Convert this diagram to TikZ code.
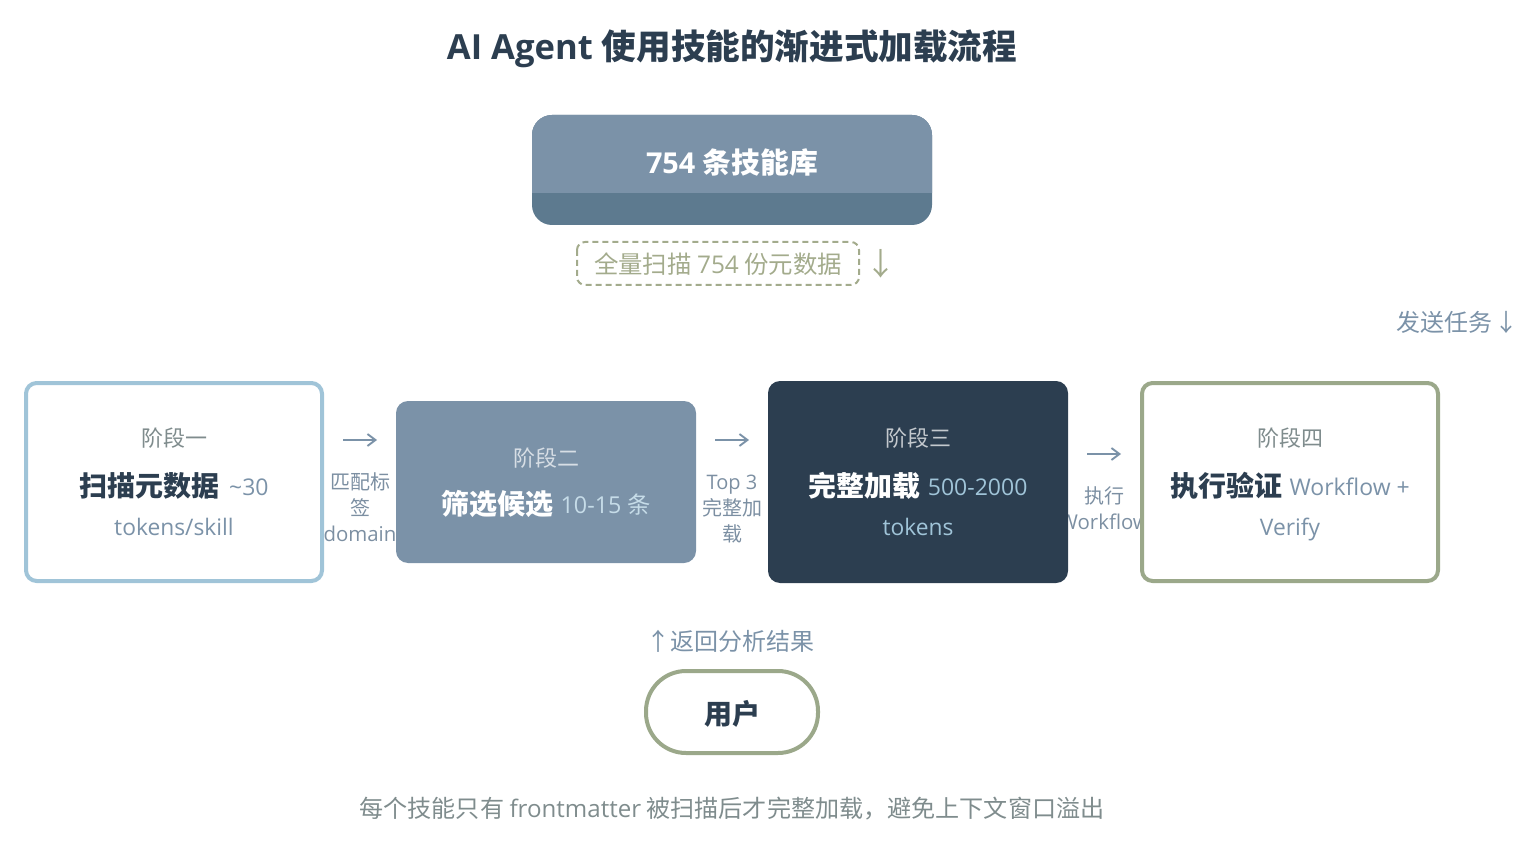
\documentclass[tikz,border=0pt]{standalone}
\usepackage{fontspec}
\usetikzlibrary{arrows.meta}
\setmainfont{Open Sans}
\newfontfamily\cjk{Noto Sans CJK SC}
\definecolor{steel}{HTML}{7B92A8}
\definecolor{steeld}{HTML}{5D7A8F}
\definecolor{navy}{HTML}{2C3E50}
\definecolor{sky}{HTML}{A0C4D8}
\definecolor{sage}{HTML}{9BA88A}
\definecolor{sagel}{HTML}{A3AB8C}
\definecolor{grayt}{HTML}{7F8C8D}
\newcommand{\px}[1]{\fontsize{\fpeval{#1*0.75}}{\fpeval{#1*0.9}}\selectfont}
\newcommand{\up}[1]{\raisebox{0.75pt}{#1}}
\tikzset{
  x=0.75pt,y=-0.75pt,
  every node/.style={inner sep=0pt,outer sep=0pt},
  txt/.style={anchor=base,text=#1},
  panel/.style={rounded corners=9pt,draw=none},
  outlinebox/.style={rounded corners=8pt,line width=3pt,draw=#1,fill=white},
  flowarrow/.style={draw=steel,line width=2.2pt,-{Straight Barb[length=6pt,width=9pt,line width=1.4pt]}},
}
\begin{document}
\begin{tikzpicture}
\useasboundingbox (0,0) rectangle (1534,848);
\node[txt=navy] (title) at (732,60) {\px{34.6}\bfseries AI Agent \cjk\bfseries 使用技能的渐进式加载流程};
% library
\path[fill=steeld,rounded corners=15pt] (532,115) rectangle (932,225);
\path[fill=steel] (532,193) [rounded corners=15pt] -- (532,115) -- (932,115) [sharp corners] -- (932,193) -- cycle;
\node[txt=white] (lib) at (732,174) {\px{28.8}\bfseries 754 \cjk\bfseries 条技能库};
\draw[draw=sagel,line width=1.5pt,dash pattern=on 4.5pt off 3pt,rounded corners=6pt] (577,242) rectangle (859,285);
\node[txt=sagel] (scan) at (718,274) {\px{24.4}\cjk 全量扫描 {\rmfamily 754} 份元数据};
\node[txt=sagel] (scanarrow) at (881,276) {\px{31}\cjk ↓};
\node[txt=steel,anchor=base east] (send) at (1518,332) {\px{24}\cjk 发送任务\kern 1.5pt ↓};
% connector labels
\node[txt=steel!85!gray] (l1a) at (360,489) {\px{20}\cjk 匹配标};
\node[txt=steel!85!gray] (l1b) at (360,515) {\px{20}\cjk 签};
\node[txt=steel!85!gray] (l1c) at (360,541) {\px{20.4}domain};
\node[txt=steel!85!gray] (l2a) at (732,489) {\px{20}Top 3};
\node[txt=steel!85!gray] (l2b) at (732,515) {\px{20}\cjk 完整加};
\node[txt=steel!85!gray] (l2c) at (732,541) {\px{20}\cjk 载};
\node[txt=steel!85!gray] (l3a) at (1104,503) {\px{20}\cjk 执行};
\node[txt=steel!85!gray] (l3b) at (1104,529) {\px{20.4}Workflow};
% arrows
\coordinate (a1s) at (343,440); \coordinate (a1e) at (377,440);
\coordinate (a2s) at (715,440); \coordinate (a2e) at (749,440);
\coordinate (a3s) at (1087,454); \coordinate (a3e) at (1121,454);
\draw[flowarrow] (a1s) -- (a1e);
\draw[flowarrow] (a2s) -- (a2e);
\draw[flowarrow] (a3s) -- (a3e);
% stage 1
\draw[outlinebox=sky] (26,383) rectangle (322,581);
\node[txt=grayt] (s1a) at (174,446) {\px{22}\cjk 阶段一};
\node[txt=steel] (s1b) at (174,496) {{\px{28}\color{navy}\cjk\bfseries 扫描元数据}\px{23} \,\up{\textasciitilde 30}};
\node[txt=steel] (s1c) at (174,535) {\px{22.8}tokens/skill};
% stage 2
\path[panel,fill=steel] (396,401) rectangle (696,563);
\node[txt={white!70!steel}] (s2a) at (546,466) {\px{22}\cjk 阶段二};
\node[txt=sky!60!white] (s2b) at (546,514) {{\px{28}\color{white}\cjk\bfseries 筛选候选}\px{23.3} \kern 1pt\up{10-15 {\cjk 条}}};
% stage 3
\path[panel,fill=navy] (768,381) rectangle (1068,583);
\node[txt={white!72!navy}] (s3a) at (918,446) {\px{22}\cjk 阶段三};
\node[txt=sky] (s3b) at (918,496) {{\px{28}\color{white}\cjk\bfseries 完整加载}\px{23} \kern 1pt\up{500-2000}};
\node[txt=sky] (s3c) at (918,535) {\px{22.8}tokens};
% stage 4
\draw[outlinebox=sage] (1142,383) rectangle (1438,581);
\node[txt=grayt] (s4a) at (1290,446) {\px{22}\cjk 阶段四};
\node[txt=steel] (s4b) at (1290,496) {{\px{28}\color{navy}\cjk\bfseries 执行验证}\px{23} \kern 1pt\up{Workflow +}};
\node[txt=steel] (s4c) at (1290,535) {\px{22.8}Verify};
% user
\node[txt=steel] (ret) at (730,650) {\px{24}\cjk ↑\kern 0pt 返回分析结果};
\draw[draw=sage,line width=3pt,fill=white,rounded corners=30pt] (646,671) rectangle (818,753);
\node[txt=navy] (user) at (732,724) {\px{28}\cjk\bfseries 用户};
\node[txt=grayt] (foot) at (732,817) {\px{24.1}\cjk 每个技能只有 {\rmfamily frontmatter} 被扫描后才完整加载，避免上下文窗口溢出};
\end{tikzpicture}
\end{document}
